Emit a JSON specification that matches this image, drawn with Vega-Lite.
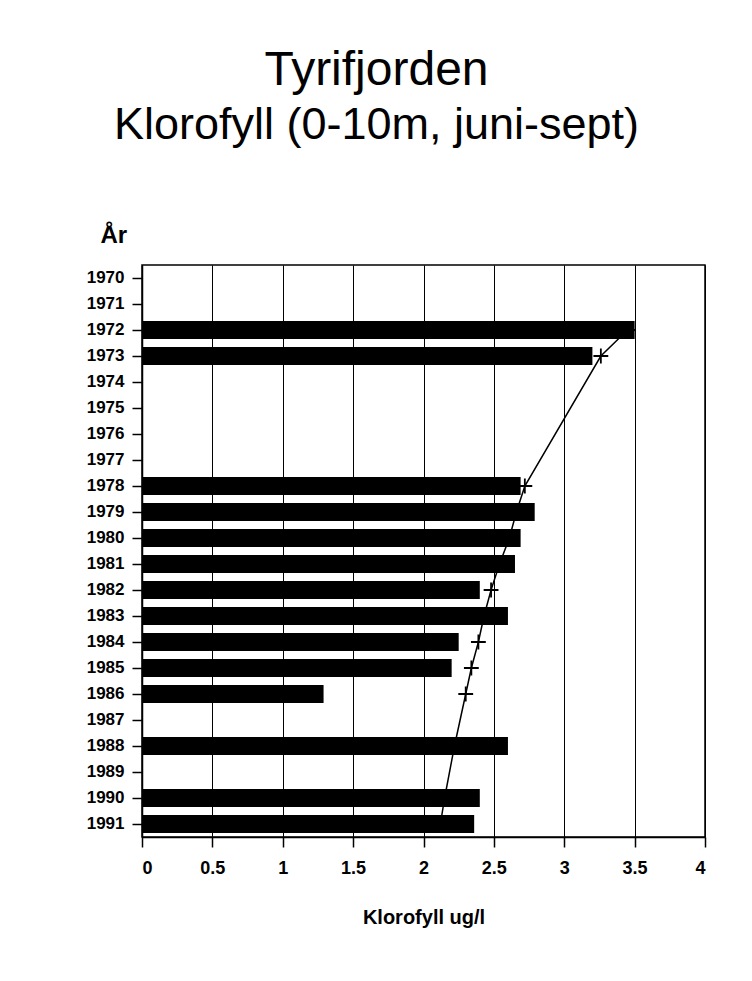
{
  "$schema": "https://vega.github.io/schema/vega-lite/v6.json",
  "width": 563,
  "height": 572,
  "autosize": "none",
  "padding": {"left": 142, "top": 265, "right": 47, "bottom": 144},
  "background": "white",
  "title": {
    "text": "Tyrifjorden",
    "subtitle": "Klorofyll (0-10m, juni-sept)",
    "anchor": "middle",
    "frame": "group",
    "dx": -47,
    "offset": 75,
    "font": "Liberation Sans",
    "fontSize": 48,
    "fontWeight": "normal",
    "color": "black",
    "subtitleFont": "Liberation Sans",
    "subtitleFontSize": 45,
    "subtitleColor": "black",
    "subtitlePadding": 8
  },
  "config": {
    "view": {"stroke": "black", "strokeWidth": 1.5},
    "axis": {
      "labelFont": "Liberation Sans",
      "labelFontWeight": "bold",
      "labelFontSize": 17,
      "labelColor": "black",
      "titleFont": "Liberation Sans",
      "titleColor": "black",
      "domainColor": "black",
      "tickColor": "black",
      "tickWidth": 1.5,
      "domainWidth": 1.5
    }
  },
  "data": {
    "values": [
      {"year": 1970, "value": null, "trend": null},
      {"year": 1971, "value": null, "trend": null},
      {"year": 1972, "value": 3.50, "trend": 3.45},
      {"year": 1973, "value": 3.20, "trend": 3.26},
      {"year": 1974, "value": null, "trend": null},
      {"year": 1975, "value": null, "trend": null},
      {"year": 1976, "value": null, "trend": null},
      {"year": 1977, "value": null, "trend": null},
      {"year": 1978, "value": 2.69, "trend": 2.72},
      {"year": 1979, "value": 2.79, "trend": 2.66},
      {"year": 1980, "value": 2.69, "trend": 2.61},
      {"year": 1981, "value": 2.65, "trend": 2.54},
      {"year": 1982, "value": 2.40, "trend": 2.48},
      {"year": 1983, "value": 2.60, "trend": 2.43},
      {"year": 1984, "value": 2.25, "trend": 2.39},
      {"year": 1985, "value": 2.20, "trend": 2.34},
      {"year": 1986, "value": 1.29, "trend": 2.30},
      {"year": 1987, "value": null, "trend": null},
      {"year": 1988, "value": 2.60, "trend": 2.22},
      {"year": 1989, "value": null, "trend": null},
      {"year": 1990, "value": 2.40, "trend": 2.15},
      {"year": 1991, "value": 2.36, "trend": 2.12}
    ]
  },
  "encoding": {
    "y": {
      "field": "year",
      "type": "ordinal",
      "scale": {
        "domain": [1970,1971,1972,1973,1974,1975,1976,1977,1978,1979,1980,1981,1982,1983,1984,1985,1986,1987,1988,1989,1990,1991],
        "paddingInner": 0.3,
        "paddingOuter": 0.15
      },
      "axis": {
        "title": "År",
        "titleAngle": 0,
        "titleAlign": "left",
        "titleBaseline": "alphabetic",
        "titleX": -42,
        "titleY": -23,
        "titleFontSize": 24,
        "titleFontWeight": "bold",
        "tickSize": 10,
        "labelPadding": 8,
        "grid": false
      }
    }
  },
  "layer": [
    {
      "transform": [{"filter": "datum.trend != null"}],
      "mark": {"type": "line", "color": "black", "strokeWidth": 1.5},
      "encoding": {
        "x": {
          "field": "trend",
          "type": "quantitative",
          "scale": {"domain": [0, 4], "nice": false},
          "axis": {
            "title": "Klorofyll ug/l",
            "titleFontSize": 20,
            "titleFontWeight": "bold",
            "titlePadding": 30,
            "values": [0, 0.5, 1, 1.5, 2, 2.5, 3, 3.5, 4],
            "format": "~g",
            "labelFontSize": 18,
            "grid": true,
            "gridColor": "black",
            "gridWidth": 1,
            "gridOpacity": 1,
            "tickSize": 10,
            "labelPadding": 12
          }
        }
      }
    },
    {
      "transform": [{"filter": "datum.trend != null"}],
      "mark": {
        "type": "point",
        "shape": "M-1,0H1M0,-1V1",
        "size": 220,
        "filled": false,
        "stroke": "black",
        "strokeWidth": 1.8,
        "opacity": 1
      },
      "encoding": {
        "x": {"field": "trend", "type": "quantitative"}
      }
    },
    {
      "mark": {"type": "bar", "color": "black"},
      "encoding": {
        "x": {"field": "value", "type": "quantitative"}
      }
    }
  ]
}
